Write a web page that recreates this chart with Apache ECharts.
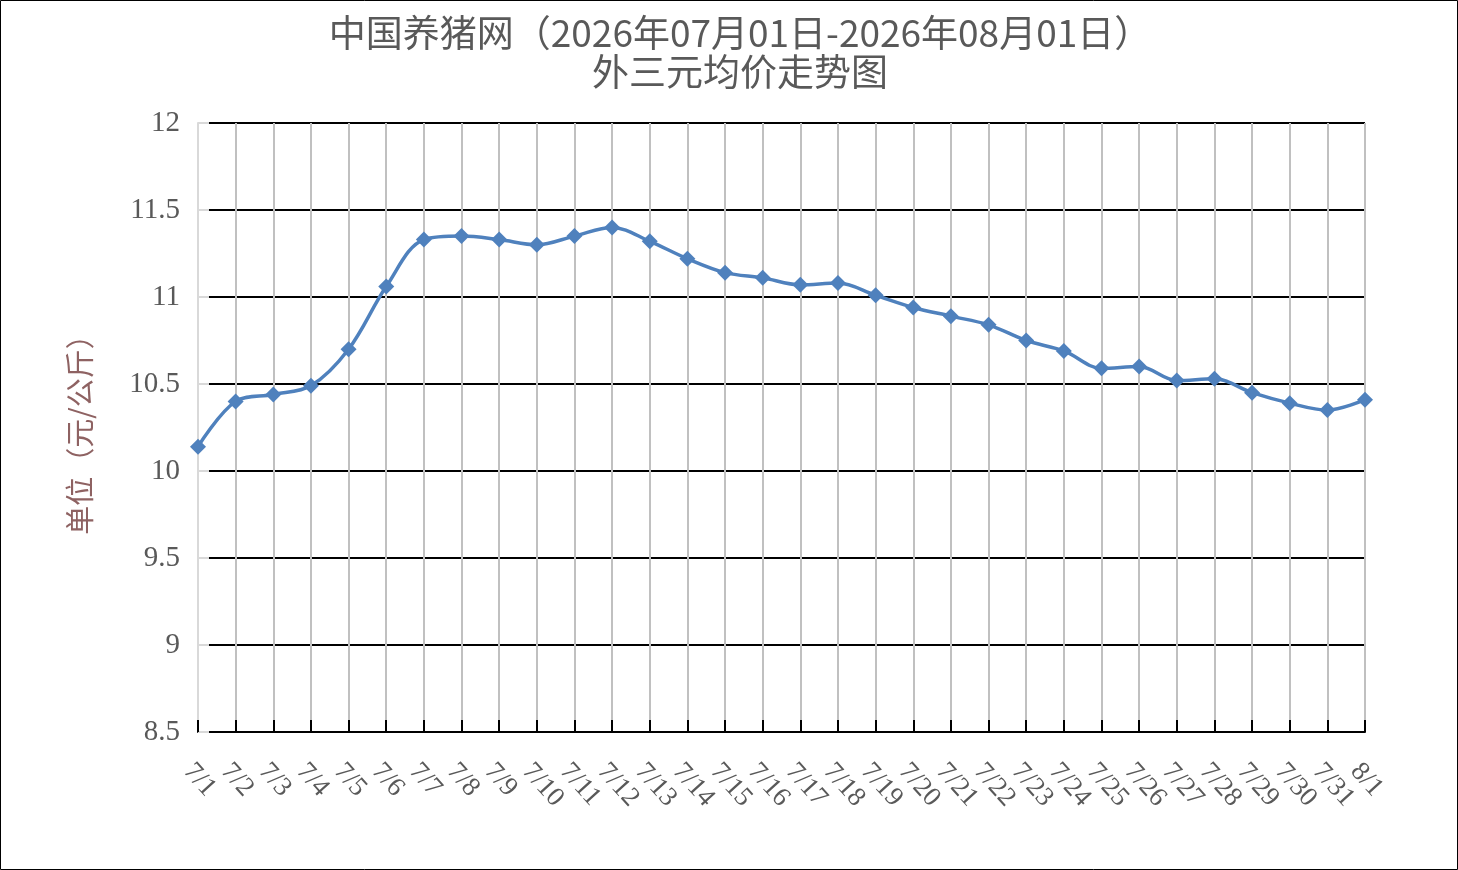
<!DOCTYPE html>
<html>
<head>
<meta charset="utf-8">
<script src="https://cdn.jsdelivr.net/npm/echarts@6/dist/echarts.min.js"></script>
<style>
html,body{margin:0;padding:0;background:#fff;}
#c{width:1458px;height:870px;}
</style>
</head>
<body>
<div id="c"></div>
<script>
const titleLines = ['中国养猪网（2026年07月01日-2026年08月01日）', '外三元均价走势图'];
const yAxisName = '单位（元/公斤）';
const categories = ['7/1','7/2','7/3','7/4','7/5','7/6','7/7','7/8','7/9','7/10','7/11','7/12','7/13','7/14','7/15','7/16','7/17','7/18','7/19','7/20','7/21','7/22','7/23','7/24','7/25','7/26','7/27','7/28','7/29','7/30','7/31','8/1'];
const prices = [10.14,10.40,10.44,10.49,10.70,11.06,11.33,11.35,11.33,11.30,11.35,11.40,11.32,11.22,11.14,11.11,11.07,11.08,11.01,10.94,10.89,10.84,10.75,10.69,10.59,10.60,10.52,10.53,10.45,10.39,10.35,10.41];
const yMin = 8.5, yMax = 12, yStep = 0.5;

const serif = '"Liberation Serif", "DejaVu Serif", "Noto Sans CJK SC", serif';
const chart = echarts.init(document.getElementById('c'), null, {renderer: 'canvas'});
chart.setOption({
  animation: false,
  backgroundColor: '#ffffff',
  title: {
    text: titleLines.join('\n'),
    left: 735,
    textAlign: 'center',
    top: 8,
    textStyle: {
      fontFamily: '"Noto Sans CJK SC", sans-serif',
      fontSize: 37,
      fontWeight: 'normal',
      color: '#595959',
      lineHeight: 39
    }
  },
  graphic: [{
    type: 'rect',
    shape: {x: 0.5, y: 0.5, width: 1457, height: 869},
    style: {fill: 'none', stroke: '#000', lineWidth: 1},
    silent: true
  }],
  grid: {left: 198, right: 93, top: 123, bottom: 138, containLabel: false},
  xAxis: {
    type: 'category',
    data: categories,
    boundaryGap: false,
    axisLine: {show: true, lineStyle: {color: '#000', width: 2}},
    axisTick: {show: true, inside: true, length: 12, alignWithLabel: true, interval: 0, lineStyle: {color: '#000', width: 2}},
    splitLine: {show: true, interval: 0, lineStyle: {color: '#c0c0c0', width: 2}},
    axisLabel: {
      interval: 0,
      rotate: -48,
      margin: 26,
      align: 'left',
      verticalAlign: 'top',
      fontFamily: serif,
      fontSize: 27,
      color: '#595959'
    }
  },
  yAxis: {
    type: 'value',
    min: yMin,
    max: yMax,
    interval: yStep,
    name: yAxisName,
    nameLocation: 'middle',
    nameGap: 104,
    nameRotate: 90,
    nameTextStyle: {
      fontFamily: '"Noto Sans CJK SC", sans-serif',
      fontSize: 29,
      color: '#8e6262'
    },
    axisLine: {show: true, lineStyle: {color: '#d9d9d9', width: 2}},
    axisTick: {show: true, inside: true, length: 11, lineStyle: {color: '#d9d9d9', width: 2}},
    splitLine: {show: true, lineStyle: {color: '#000', width: 2}},
    axisLabel: {
      margin: 18,
      fontFamily: serif,
      fontSize: 29,
      color: '#595959'
    }
  },
  series: [{
    type: 'line',
    data: prices,
    smooth: 0.35,
    symbol: 'diamond',
    symbolSize: 16,
    lineStyle: {color: '#4f81bd', width: 3.5},
    itemStyle: {color: '#4f81bd'},
    z: 5
  }]
});
</script>
</body>
</html>
